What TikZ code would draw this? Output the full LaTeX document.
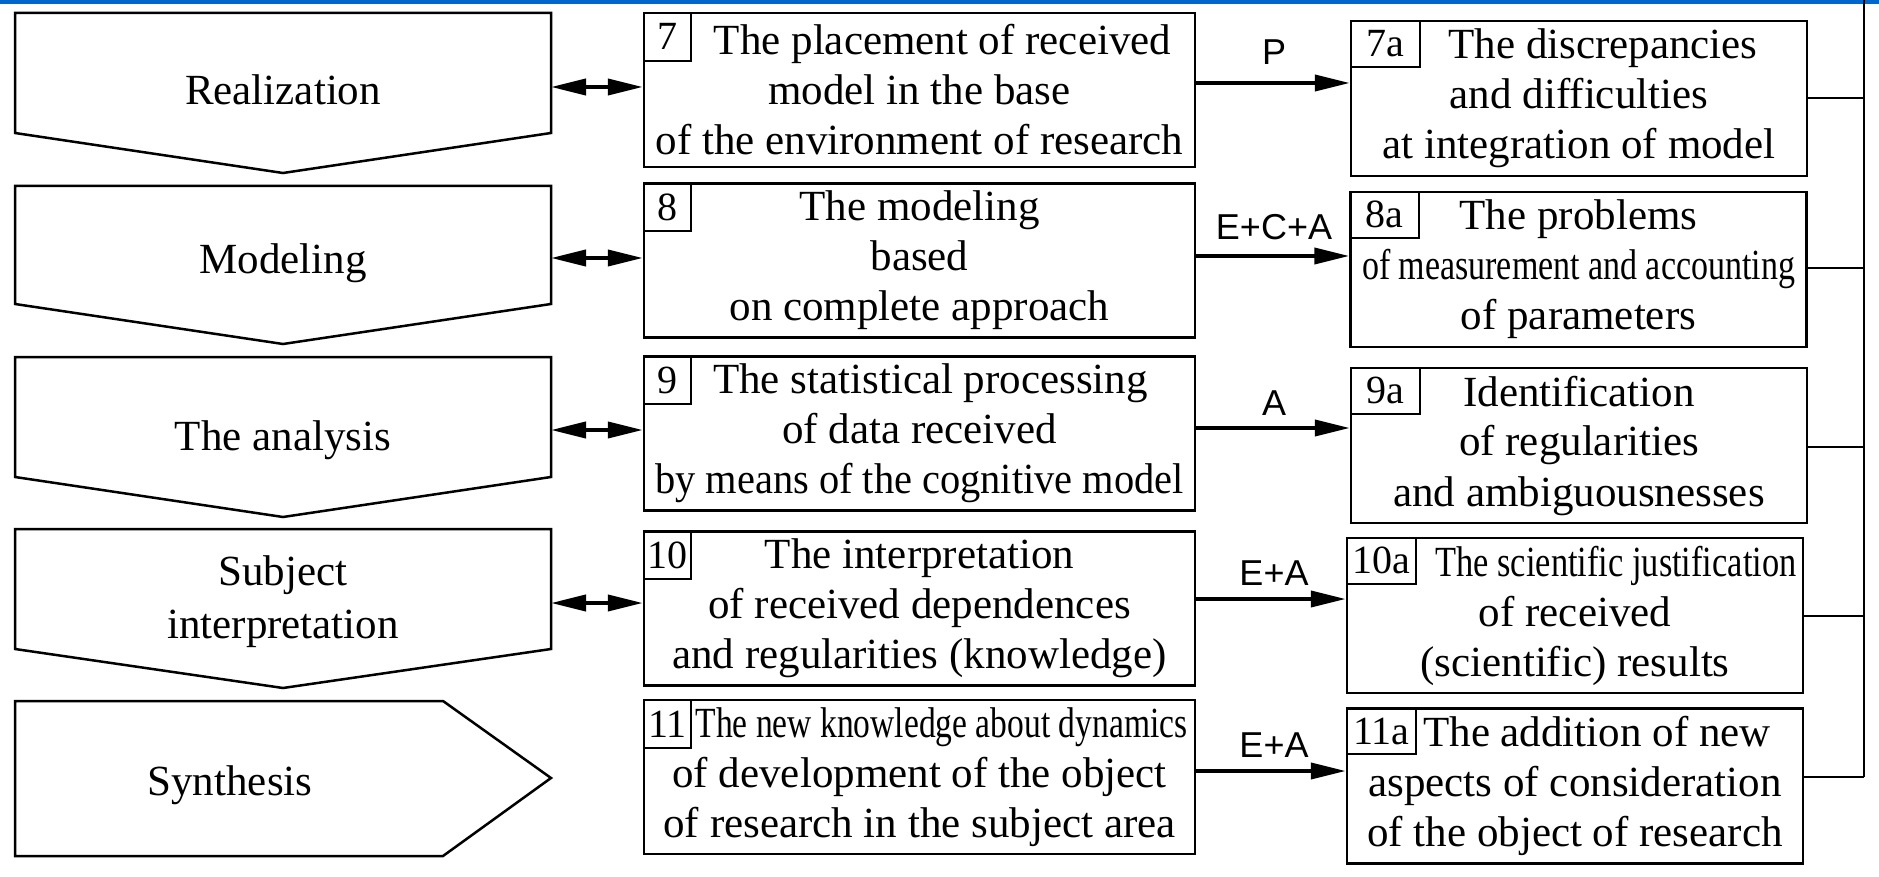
\documentclass[tikz,border=0pt]{standalone}
\usepackage{fontspec}
\setmainfont{Liberation Serif}
\newfontfamily\labfont{Liberation Sans}
\usepackage{graphicx}
\usetikzlibrary{arrows.meta}
\definecolor{topblue}{RGB}{0,102,204}
\begin{document}
\begin{tikzpicture}[x=0.5pt,y=-0.5pt,
  mainbox/.style={draw, line width=1.25pt, inner sep=0pt, align=center, font=\fontsize{21.5}{25}\selectfont},
  midbox/.style={mainbox, minimum width=275.5pt, minimum height=77pt},
  resbox/.style={mainbox, minimum width=228pt, minimum height=77.5pt},
  numbox/.style={draw, line width=1.1pt, inner sep=0pt, anchor=north west, font=\fontsize{20}{20}\selectfont},
  midnum/.style={numbox, minimum width=23.5pt, minimum height=24pt},
  resnum/.style={numbox, minimum width=34.5pt, minimum height=23pt},
  stage/.style={draw, line width=1.25pt, line join=miter},
  stagetext/.style={align=center, inner sep=0pt, font=\fontsize{21.5}{26.5}\selectfont},
  dbl/.style={line width=2pt, {Triangle[length=17.5pt,width=8pt]}-{Triangle[length=17.5pt,width=8pt]}},
  arr/.style={line width=2pt, -{Triangle[length=17.5pt,width=8pt]}},
  lbl/.style={font=\labfont\fontsize{18}{18}\selectfont, inner sep=0pt},
  conn/.style={line width=1.1pt}]
\useasboundingbox (0,0) rectangle (1879,877);
\fill[topblue] (0,0) rectangle (1879,4);

% stages (left pentagons)
\draw[stage] (15,13) -- (551,13) -- (551,133) -- (283,173) -- (15,133) -- cycle;
\draw[stage] (15,186) -- (551,186) -- (551,304) -- (283,344) -- (15,304) -- cycle;
\draw[stage] (15,357) -- (551,357) -- (551,477) -- (283,517) -- (15,477) -- cycle;
\draw[stage] (15,529) -- (551,529) -- (551,649) -- (283,688) -- (15,649) -- cycle;
\draw[stage] (15,701) -- (443,701) -- (551,778) -- (443,856) -- (15,856) -- cycle;
\node[stagetext] (s1) at (283,90) {Realization};
\node[stagetext] (s2) at (283,263) {Modeling};
\node[stagetext] (s3) at (283,440) {The analysis};
\node[stagetext] (s4) at (283,602) {Subject\\interpretation};
\node[stagetext] (s5) at (230,785) {Synthesis};

% middle boxes
\node[midbox] (m1) at (919.5,90) {\hspace*{23pt}The placement of received\\model in the base\\of the environment of research};
\node[midbox] (m2) at (919.5,260.5) {The modeling\\based\\on complete approach};
\node[midbox] (m3) at (919.5,433.5) {\hspace*{11pt}The statistical processing\\of data received\\\scalebox{0.94}[1]{by means of the cognitive model}};
\node[midbox] (m4) at (919.5,608.5) {The interpretation\\of received dependences\\and regularities (knowledge)};
\node[midbox] (m5) at (919.5,777) {\hspace*{22pt}\scalebox{0.78}[1]{The new knowledge about dynamics}\\of development of the object\\of research in the subject area};
\node[midnum] (n7) at (m1.north west) {7};
\node[midnum] (n8) at (m2.north west) {8};
\node[midnum] (n9) at (m3.north west) {9};
\node[midnum] (n10) at (m4.north west) {10};
\node[midnum] (n11) at (m5.north west) {11};

% result boxes
\node[resbox] (r1) at (1579,98.5) {\hspace*{24pt}The discrepancies\\and difficulties\\at integration of model};
\node[resbox] (r2) at (1578.5,269.5) {The problems\\\scalebox{0.79}[1]{of measurement and accounting}\\of parameters};
\node[resbox] (r3) at (1579,445.5) {Identification\\of regularities\\and ambiguousnesses};
\node[resbox] (r4) at (1575,615.5) {\hspace*{41pt}\scalebox{0.80}[1]{The scientific justification}\\of received\\(scientific) results};
\node[resbox] (r5) at (1575,786) {\hspace*{22pt}The addition of new\\aspects of consideration\\of the object of research};
\node[resnum] (n7a) at (r1.north west) {7a};
\node[resnum] (n8a) at (r2.north west) {8a};
\node[resnum] (n9a) at (r3.north west) {9a};
\node[resnum] (n10a) at (r4.north west) {10a};
\node[resnum] (n11a) at (r5.north west) {11a};

% double arrows between stages and middle boxes
\coordinate (p1) at (551,87);
\coordinate (p2) at (551,258);
\coordinate (p3) at (551,430);
\coordinate (p4) at (551,603);
\draw[dbl] (p1) -- (p1 -| m1.west);
\draw[dbl] (p2) -- (p2 -| m2.west);
\draw[dbl] (p3) -- (p3 -| m3.west);
\draw[dbl] (p4) -- (p4 -| m4.west);

% arrows from middle boxes to result boxes
\coordinate (a1) at (0,83);
\coordinate (a2) at (0,256);
\coordinate (a3) at (0,428);
\coordinate (a4) at (0,599);
\coordinate (a5) at (0,771);
\draw[arr] (m1.east |- a1) -- (r1.west |- a1);
\draw[arr] (m2.east |- a2) -- (r2.west |- a2);
\draw[arr] (m3.east |- a3) -- (r3.west |- a3);
\draw[arr] (m4.east |- a4) -- (r4.west |- a4);
\draw[arr] (m5.east |- a5) -- (r5.west |- a5);
\node[lbl] (l1) at (1274,52) {P};
\node[lbl] (l2) at (1274,227) {E+C+A};
\node[lbl] (l3) at (1274,403) {A};
\node[lbl] (l4) at (1274,573) {E+A};
\node[lbl] (l5) at (1274,745) {E+A};

% feedback bus on the right
\coordinate (bt) at (1864,0);
\coordinate (b1) at (1864,98);
\coordinate (b2) at (1864,268);
\coordinate (b3) at (1864,447);
\coordinate (b4) at (1864,616);
\coordinate (b5) at (1864,777);
\draw[conn] (bt) -- (b5);
\draw[conn] (r1.east |- b1) -- (b1);
\draw[conn] (r2.east |- b2) -- (b2);
\draw[conn] (r3.east |- b3) -- (b3);
\draw[conn] (r4.east |- b4) -- (b4);
\draw[conn] (r5.east |- b5) -- (b5);
\end{tikzpicture}
\end{document}
